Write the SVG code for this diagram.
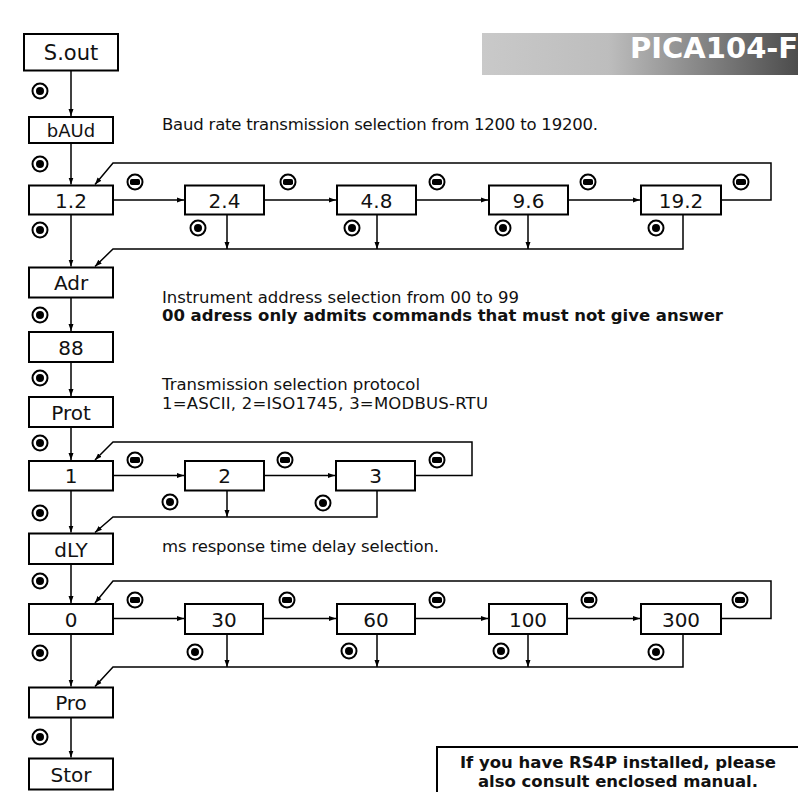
<svg xmlns="http://www.w3.org/2000/svg" width="798" height="792" viewBox="0 0 798 792">
<defs>
<linearGradient id="hdr" x1="0" y1="0" x2="1" y2="0">
<stop offset="0" stop-color="#c9c9c9"/>
<stop offset="0.4" stop-color="#bdbdbd"/>
<stop offset="1" stop-color="#4c4c4c"/>
</linearGradient>
<marker id="ah" markerUnits="userSpaceOnUse" markerWidth="8" markerHeight="8" viewBox="0 0 8 8" refX="7" refY="4" orient="auto">
<path d="M0,1.5 L7,4 L0,6.5 Z" fill="#000"/>
</marker>
<g id="sel">
<circle r="7.5" fill="#fff" stroke="#000" stroke-width="2"/>
<circle r="4" fill="#000"/>
</g>
<g id="dec">
<circle r="7.5" fill="#fff" stroke="#000" stroke-width="2"/>
<rect x="-5" y="-3" width="10" height="6" rx="1.8" fill="#000"/>
</g>
</defs>
<style>
.box{fill:#fff;stroke:#000;stroke-width:2}
.lbl{font-family:"DejaVu Sans","Liberation Sans",sans-serif;font-size:20px;text-anchor:middle;fill:#111}
.txt{font-family:"DejaVu Sans","Liberation Sans",sans-serif;font-size:16.5px;fill:#111}
.bold{font-weight:bold}
.ln{fill:none;stroke:#000;stroke-width:1.5}
.ar{marker-end:url(#ah)}
</style>
<rect width="798" height="792" fill="#fff"/>

<g id="header">
<rect x="482" y="33" width="316" height="42" fill="url(#hdr)"/>
<text x="630" y="58" font-family="DejaVu Sans, Liberation Sans, sans-serif" font-weight="bold" font-size="29" fill="#fff">PICA104-F</text>
</g>

<g id="connectors">
<path class="ln ar" d="M71,70.5 V116"/>
<path class="ln ar" d="M71,143 V184.5"/>
<path class="ln ar" d="M71,214.5 V266.5"/>
<path class="ln ar" d="M71,297.5 V331"/>
<path class="ln ar" d="M71,362 V396"/>
<path class="ln ar" d="M71,427 V460"/>
<path class="ln ar" d="M71,490.5 V532.5"/>
<path class="ln ar" d="M71,564 V603"/>
<path class="ln ar" d="M71,634 V686.5"/>
<path class="ln ar" d="M71,717.5 V757.5"/>
<path class="ln ar" d="M113,200 H184"/>
<path class="ln ar" d="M264,200 H336"/>
<path class="ln ar" d="M416,200 H488"/>
<path class="ln ar" d="M568,200 H640"/>
<path class="ln ar" d="M721,200 H771 V163 H113 L95,184.5"/>
<path class="ln ar" d="M227,214.5 V249"/>
<path class="ln ar" d="M377,214.5 V249"/>
<path class="ln ar" d="M528,214.5 V249"/>
<path class="ln ar" d="M683,214.5 V249 H113 L95,266.5"/>
<path class="ln ar" d="M113,475.5 H184"/>
<path class="ln ar" d="M264,475.5 H335"/>
<path class="ln ar" d="M415,475.5 H472 V442 H113 L95,460"/>
<path class="ln ar" d="M227,490.5 V517"/>
<path class="ln ar" d="M377,490.5 V517 H113 L95,532.5"/>
<path class="ln ar" d="M113,618.5 H184"/>
<path class="ln ar" d="M263,618.5 H336"/>
<path class="ln ar" d="M415,618.5 H488"/>
<path class="ln ar" d="M567,618.5 H640"/>
<path class="ln ar" d="M721,618.5 H771 V581 H113 L95,603"/>
<path class="ln ar" d="M227,634 V667"/>
<path class="ln ar" d="M377,634 V667"/>
<path class="ln ar" d="M528,634 V667"/>
<path class="ln ar" d="M683,634 V667 H113 L95,686.5"/>
</g>

<g id="symbols">
<use href="#sel" x="40" y="91"/>
<use href="#sel" x="40" y="164"/>
<use href="#sel" x="40" y="230"/>
<use href="#sel" x="40" y="315"/>
<use href="#sel" x="40" y="378"/>
<use href="#sel" x="40" y="443"/>
<use href="#sel" x="40" y="513"/>
<use href="#sel" x="40" y="581"/>
<use href="#sel" x="40" y="653"/>
<use href="#sel" x="40" y="737"/>
<use href="#dec" x="135" y="182"/>
<use href="#dec" x="288" y="182"/>
<use href="#dec" x="437" y="182"/>
<use href="#dec" x="588" y="182"/>
<use href="#dec" x="741" y="182"/>
<use href="#sel" x="198" y="228"/>
<use href="#sel" x="352" y="228"/>
<use href="#sel" x="503" y="228"/>
<use href="#sel" x="656" y="228"/>
<use href="#dec" x="135" y="460"/>
<use href="#dec" x="285" y="460"/>
<use href="#dec" x="437" y="460"/>
<use href="#sel" x="170" y="502"/>
<use href="#sel" x="323" y="503"/>
<use href="#dec" x="135" y="600"/>
<use href="#dec" x="287" y="600"/>
<use href="#dec" x="437" y="600"/>
<use href="#dec" x="589" y="600"/>
<use href="#dec" x="740" y="600"/>
<use href="#sel" x="195" y="652"/>
<use href="#sel" x="349" y="651"/>
<use href="#sel" x="501" y="651"/>
<use href="#sel" x="656" y="652"/>
</g>

<g id="n-sout"><rect class="box" x="24" y="34" width="94" height="36.5"/><text class="lbl" x="71" y="59.5" style="font-size:21px">S.out</text></g>
<g id="n-baud"><rect class="box" x="29" y="117" width="84" height="26"/><text class="lbl" x="71" y="136.5" style="font-size:18px">bAUd</text></g>
<g id="n-b12"><rect class="box" x="29" y="185.5" width="84" height="29"/><text class="lbl" x="71" y="207.5">1.2</text></g>
<g id="n-b24"><rect class="box" x="185" y="185.5" width="79" height="29"/><text class="lbl" x="224.5" y="207.5">2.4</text></g>
<g id="n-b48"><rect class="box" x="337" y="185.5" width="79" height="29"/><text class="lbl" x="376.5" y="207.5">4.8</text></g>
<g id="n-b96"><rect class="box" x="489" y="185.5" width="79" height="29"/><text class="lbl" x="528.5" y="207.5">9.6</text></g>
<g id="n-b192"><rect class="box" x="641" y="185.5" width="80" height="29"/><text class="lbl" x="681" y="207.5">19.2</text></g>
<g id="n-adr"><rect class="box" x="29" y="267.5" width="84" height="30"/><text class="lbl" x="71" y="290">Adr</text></g>
<g id="n-88"><rect class="box" x="29" y="332" width="84" height="30"/><text class="lbl" x="71" y="354.5">88</text></g>
<g id="n-prot"><rect class="box" x="29" y="397" width="84" height="30"/><text class="lbl" x="71" y="419.5">Prot</text></g>
<g id="n-p1"><rect class="box" x="29" y="461" width="84" height="29.5"/><text class="lbl" x="71" y="483">1</text></g>
<g id="n-p2"><rect class="box" x="185" y="461" width="79" height="29.5"/><text class="lbl" x="224.5" y="483">2</text></g>
<g id="n-p3"><rect class="box" x="336" y="461" width="79" height="29.5"/><text class="lbl" x="375.5" y="483">3</text></g>
<g id="n-dly"><rect class="box" x="29" y="533.5" width="84" height="30.5"/><text class="lbl" x="71" y="556.5">dLY</text></g>
<g id="n-d0"><rect class="box" x="29" y="604" width="84" height="30"/><text class="lbl" x="71" y="626.5">0</text></g>
<g id="n-d30"><rect class="box" x="185" y="604" width="78" height="30"/><text class="lbl" x="224" y="626.5">30</text></g>
<g id="n-d60"><rect class="box" x="337" y="604" width="78" height="30"/><text class="lbl" x="376" y="626.5">60</text></g>
<g id="n-d100"><rect class="box" x="489" y="604" width="78" height="30"/><text class="lbl" x="528" y="626.5">100</text></g>
<g id="n-d300"><rect class="box" x="641" y="604" width="80" height="30"/><text class="lbl" x="681" y="626.5">300</text></g>
<g id="n-pro"><rect class="box" x="29" y="687.5" width="84" height="30"/><text class="lbl" x="71" y="710">Pro</text></g>
<g id="n-stor"><rect class="box" x="29" y="758.5" width="84" height="31"/><text class="lbl" x="71" y="781.5">Stor</text></g>

<g id="notes">
<text class="txt" x="162" y="130" textLength="436">Baud rate transmission selection from 1200 to 19200.</text>
<text class="txt" x="162" y="303" textLength="357">Instrument address selection from 00 to 99</text>
<text class="txt bold" x="162" y="321" textLength="561">00 adress only admits commands that must not give answer</text>
<text class="txt" x="162" y="390" textLength="258">Transmission selection protocol</text>
<text class="txt" x="162" y="409" textLength="326">1=ASCII, 2=ISO1745, 3=MODBUS-RTU</text>
<text class="txt" x="162" y="552" textLength="277">ms response time delay selection.</text>
</g>

<g id="rs4p">
<rect class="box" x="437" y="747" width="370" height="60"/>
<text class="txt bold" x="618" y="768" text-anchor="middle" textLength="316">If you have RS4P installed, please</text>
<text class="txt bold" x="618" y="787" text-anchor="middle" textLength="280">also consult enclosed manual.</text>
</g>
</svg>
